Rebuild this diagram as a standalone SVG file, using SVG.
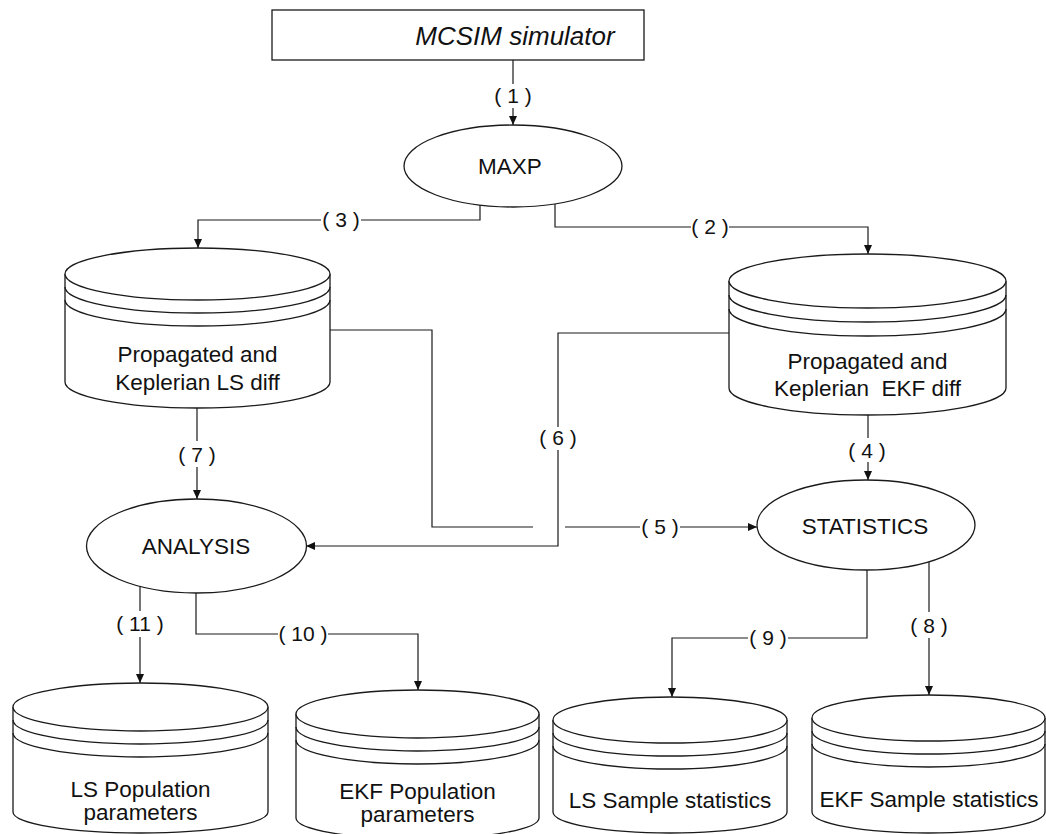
<svg xmlns="http://www.w3.org/2000/svg" width="1046" height="834" viewBox="0 0 1046 834">
  <style>
    .shape { fill: #ffffff; stroke: #1a1a1a; stroke-width: 1.3; }
    .ring { fill: none; stroke: #1a1a1a; stroke-width: 1.3; }
    .txt { font-family: "Liberation Sans", Arial, sans-serif; font-size: 22.5px; fill: #111111; text-anchor: middle; }
    .title { font-style: italic; font-size: 26px; }
    .wire { fill: none; stroke: #1a1a1a; stroke-width: 1.2; }
    .lbl { font-family: "Liberation Sans", Arial, sans-serif; font-size: 21px; fill: #111111; text-anchor: middle; }
  </style>
  <defs>
    <marker id="arrow" markerUnits="userSpaceOnUse" markerWidth="10" markerHeight="9" refX="9" refY="4" orient="auto">
      <path d="M0,0 L9,4 L0,8 z" fill="#111111"/>
    </marker>
  </defs>

  <rect width="1046" height="834" fill="#ffffff"/>

  <!-- connectors -->
  <g id="connectors">
    <!-- (1) simulator to MAXP -->
    <path class="wire" d="M513,60 V84"/>
    <path class="wire" d="M513,108 V125" marker-end="url(#arrow)"/>
    <text class="lbl" x="513" y="103">( 1 )</text>

    <!-- (3) MAXP to LS diff store -->
    <path class="wire" d="M480,205 V220 H361"/>
    <path class="wire" d="M321,220 H198 V248" marker-end="url(#arrow)"/>
    <text class="lbl" x="341" y="227">( 3 )</text>

    <!-- (2) MAXP to EKF diff store -->
    <path class="wire" d="M555,204 V227 H691"/>
    <path class="wire" d="M729,227 H868 V254" marker-end="url(#arrow)"/>
    <text class="lbl" x="710" y="234">( 2 )</text>

    <!-- (4) EKF diff store to STATISTICS -->
    <path class="wire" d="M868,415 V438"/>
    <path class="wire" d="M868,462 V480" marker-end="url(#arrow)"/>
    <text class="lbl" x="867" y="458">( 4 )</text>

    <!-- (7) LS diff store to ANALYSIS -->
    <path class="wire" d="M197,408 V441"/>
    <path class="wire" d="M197,467 V499" marker-end="url(#arrow)"/>
    <text class="lbl" x="197" y="462">( 7 )</text>

    <!-- (5) LS diff store to STATISTICS, hopping over (6) -->
    <path class="wire" d="M330,330 H432 V527 H533"/>
    <path class="wire" d="M565,527 H640"/>
    <path class="wire" d="M680,527 H757" marker-end="url(#arrow)"/>
    <text class="lbl" x="660" y="534">( 5 )</text>

    <!-- (6) EKF diff store to ANALYSIS -->
    <path class="wire" d="M729,333 H558 V427"/>
    <path class="wire" d="M558,450 V546 H306" marker-end="url(#arrow)"/>
    <text class="lbl" x="558" y="445">( 6 )</text>

    <!-- (11) ANALYSIS to LS population -->
    <path class="wire" d="M140,586 V611"/>
    <path class="wire" d="M140,637 V683" marker-end="url(#arrow)"/>
    <text class="lbl" x="140" y="631">( 11 )</text>

    <!-- (10) ANALYSIS to EKF population -->
    <path class="wire" d="M196,593 V634 H278"/>
    <path class="wire" d="M328,634 H418 V690" marker-end="url(#arrow)"/>
    <text class="lbl" x="303" y="641">( 10 )</text>

    <!-- (9) STATISTICS to LS sample statistics -->
    <path class="wire" d="M867,570 V638 H788"/>
    <path class="wire" d="M748,638 H672 V697" marker-end="url(#arrow)"/>
    <text class="lbl" x="768" y="645">( 9 )</text>

    <!-- (8) STATISTICS to EKF sample statistics -->
    <path class="wire" d="M929,562 V612"/>
    <path class="wire" d="M929,638 V695" marker-end="url(#arrow)"/>
    <text class="lbl" x="929" y="633">( 8 )</text>
  </g>

  <!-- simulator box -->
  <g id="simulator">
    <rect class="shape" x="272" y="10" width="372" height="50"/>
    <text class="txt title" x="515" y="45">MCSIM simulator</text>
  </g>

  <!-- processes -->
  <g id="maxp">
    <ellipse class="shape" cx="513" cy="166" rx="109" ry="41"/>
    <text class="txt" x="510" y="174">MAXP</text>
  </g>

  <g id="analysis">
    <ellipse class="shape" cx="196.5" cy="546" rx="110" ry="47"/>
    <text class="txt" x="196" y="554">ANALYSIS</text>
  </g>

  <g id="statistics">
    <ellipse class="shape" cx="866" cy="525" rx="109" ry="45"/>
    <text class="txt" x="865" y="534">STATISTICS</text>
  </g>

  <!-- data stores -->
  <g id="ls-diff">
    <path class="shape" d="M65,274 V382 A132.5,26 0 0 0 330,382 V274"/>
    <ellipse class="shape" cx="197.5" cy="274" rx="132.5" ry="26"/>
    <path class="ring" d="M65,287 A132.5,26 0 0 0 330,287 M65,300 A132.5,26 0 0 0 330,300"/>
    <text class="txt" x="197.5" y="362">Propagated and</text>
    <text class="txt" x="197.5" y="390">Keplerian LS diff</text>
  </g>

  <g id="ekf-diff">
    <path class="shape" d="M729,281 V388 A138.5,27 0 0 0 1006,388 V281"/>
    <ellipse class="shape" cx="867.5" cy="281" rx="138.5" ry="27"/>
    <path class="ring" d="M729,295 A138.5,27 0 0 0 1006,295 M729,309 A138.5,27 0 0 0 1006,309"/>
    <text class="txt" x="867.5" y="369">Propagated and</text>
    <text class="txt" x="867.5" y="396" xml:space="preserve">Keplerian  EKF diff</text>
  </g>

  <g id="ls-population">
    <path class="shape" d="M13,707 V812 A127.5,21 0 0 0 268,812 V707"/>
    <ellipse class="shape" cx="140.5" cy="707" rx="127.5" ry="24"/>
    <path class="ring" d="M13,720 A127.5,24 0 0 0 268,720 M13,733 A127.5,24 0 0 0 268,733"/>
    <text class="txt" x="140.5" y="797">LS Population</text>
    <text class="txt" x="140.5" y="820">parameters</text>
  </g>

  <g id="ekf-population">
    <path class="shape" d="M296,714 V818 A121.5,21 0 0 0 539,818 V714"/>
    <ellipse class="shape" cx="417.5" cy="714" rx="121.5" ry="24"/>
    <path class="ring" d="M296,727 A121.5,24 0 0 0 539,727 M296,740 A121.5,24 0 0 0 539,740"/>
    <text class="txt" x="417.5" y="799">EKF Population</text>
    <text class="txt" x="417.5" y="822">parameters</text>
  </g>

  <g id="ls-sample">
    <path class="shape" d="M553,720 V812 A117,21 0 0 0 787,812 V720"/>
    <ellipse class="shape" cx="670" cy="720" rx="117" ry="23"/>
    <path class="ring" d="M553,733 A117,23 0 0 0 787,733 M553,746 A117,23 0 0 0 787,746"/>
    <text class="txt" x="670" y="808">LS Sample statistics</text>
  </g>

  <g id="ekf-sample">
    <path class="shape" d="M812,718 V812 A116.5,21 0 0 0 1045,812 V718"/>
    <ellipse class="shape" cx="928.5" cy="718" rx="116.5" ry="23"/>
    <path class="ring" d="M812,731 A116.5,23 0 0 0 1045,731 M812,744 A116.5,23 0 0 0 1045,744"/>
    <text class="txt" x="929" y="807">EKF Sample statistics</text>
  </g>
</svg>
